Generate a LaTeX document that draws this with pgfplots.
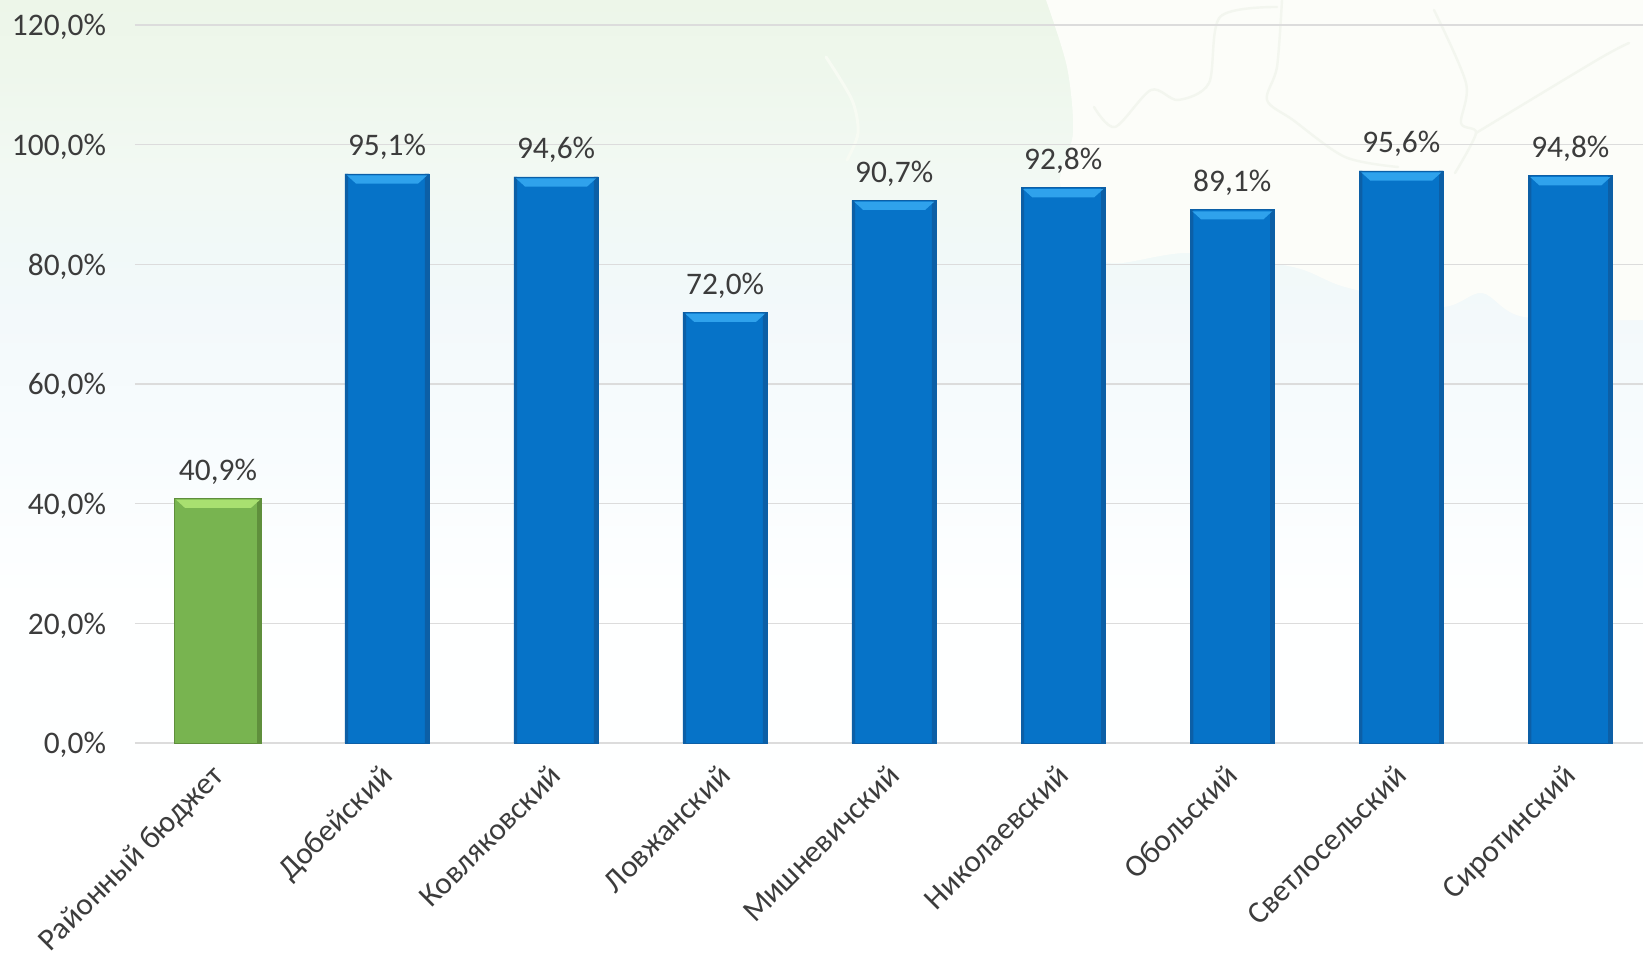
\documentclass[border=0pt]{standalone}
\usepackage{pgfplots}
\usepackage{pgfplotstable}
\pgfplotsset{compat=1.18}
\usepackage{fontspec}
\setmainfont{Carlito}
\definecolor{txt}{HTML}{3C3C3C}
\definecolor{gridc}{HTML}{DCDCDC}
\definecolor{blueb}{HTML}{0673C8}
\definecolor{bluee}{HTML}{0C5FA6}
\definecolor{bluet}{HTML}{2FA2EC}
\definecolor{greenb}{HTML}{78B450}
\definecolor{greene}{HTML}{5F8F3C}
\definecolor{greent}{HTML}{A8E070}
\definecolor{landc}{HTML}{FCFDF9}
\definecolor{borderc}{HTML}{F3F6EF}
\definecolor{borderw}{HTML}{F7FBF3}
\definecolor{bga}{HTML}{FEFFFF}
\definecolor{bgb}{HTML}{F8FCFE}
\definecolor{bgc}{HTML}{F3F9FB}
\definecolor{bgd}{HTML}{F1F9F8}
\definecolor{bge}{HTML}{F2F9F3}
\definecolor{bgf}{HTML}{EEF7EC}
\definecolor{bgg}{HTML}{EDF6E9}
\pgfdeclareverticalshading{backdrop}{100bp}{
 color(0bp)=(white);
 color(25bp)=(white);
 color(43.6bp)=(bga);
 color(51.4bp)=(bgb);
 color(58.2bp)=(bgc);
 color(61.9bp)=(bgd);
 color(66.1bp)=(bge);
 color(71.3bp)=(bgf);
 color(75bp)=(bgg);
 color(100bp)=(bgg)}
\pgfdeclareplotmark{bevelblue}{\pgfsetfillcolor{bluet}\pgfsetstrokeopacity{0}%
 \pgfpathmoveto{\pgfqpoint{-20pt}{-0.7pt}}\pgfpathlineto{\pgfqpoint{20pt}{-0.7pt}}\pgfpathlineto{\pgfqpoint{15.5pt}{-4.8pt}}\pgfpathlineto{\pgfqpoint{-15.5pt}{-4.8pt}}\pgfpathclose\pgfusepathqfill}
\pgfdeclareplotmark{bevelgreen}{\pgfsetfillcolor{greent}\pgfsetstrokeopacity{0}%
 \pgfpathmoveto{\pgfqpoint{-21pt}{-0.7pt}}\pgfpathlineto{\pgfqpoint{21pt}{-0.7pt}}\pgfpathlineto{\pgfqpoint{16.5pt}{-4.8pt}}\pgfpathlineto{\pgfqpoint{-16.5pt}{-4.8pt}}\pgfpathclose\pgfusepathqfill}
\pgfplotstableread{
x y
1 95.1
2 94.6
3 72.0
4 90.7
5 92.8
6 89.1
7 95.6
8 94.8
}\bluedata
\pgfplotstableread{
x y
0 40.9
}\greendata
\begin{document}
\begin{tikzpicture}[x=1pt,y=1pt]
\useasboundingbox (0,0) rectangle (821.5,477.5);
\clip (0,0) rectangle (821.5,477.5);
\shade[shading=backdrop] (0,0) rectangle (821.5,477.5);
\begin{scope}[x=0.5pt,y=-0.5pt,yshift=477.5pt,line cap=round,line join=round]
\fill[landc] plot[smooth,tension=0.5] coordinates {(1046,0) (1067,67) (1073,133) (1060,180) (1075,230) (1109,263) (1188,253) (1293,267) (1345,287) (1440,307) (1482,293) (1524,317) (1643,320)} -- (1643,0) -- cycle;
\draw[borderc,line width=1.2pt] plot[smooth,tension=0.5] coordinates {(1282,0) (1277,67) (1267,100) (1293,120) (1345,157) (1398,167)};
\draw[borderc,line width=1.2pt] plot[smooth,tension=0.5] coordinates {(1434,10) (1466,83) (1461,123) (1476,133) (1455,173)};
\draw[borderc,line width=1.2pt] plot[smooth,tension=0.5] coordinates {(1629,43) (1597,60) (1476,133)};
\draw[borderc,line width=1.2pt] plot[smooth,tension=0.5] coordinates {(1094,107) (1115,127) (1151,90) (1178,100) (1209,83) (1220,17) (1277,7)};
\draw[borderw,line width=1.5pt] plot[smooth,tension=0.5] coordinates {(826,57) (852,100) (858,133) (847,160)};
\end{scope}
\begin{axis}[
  at={(67.5pt,106pt)},anchor=south west,
  scale only axis,width=754pt,height=359pt,
  xmin=-0.491,xmax=8.43,ymin=0,ymax=120,
  axis line style={draw=none},
  ytick={0,20,...,120},
  yticklabel={\pgfmathprintnumber[fixed,fixed zerofill,precision=1,use comma]{\tick}\%},
  yticklabel style={/pgf/number format/assume math mode=true,text=txt,font=\fontsize{15.7}{18}\selectfont,anchor=east,xshift=-11pt,yshift=-1pt},
  ymajorgrids,grid style={gridc,line width=0.8pt},
  major tick length=0pt,
  xtick={0,...,8},
  xticklabels={Районный бюджет,Добейский,Ковляковский,Ловжанский,Мишневичский,Николаевский,Обольский,Светлосельский,Сиротинский},
  xticklabel style={rotate=45,anchor=north east,text=txt,font=\fontsize{15.6}{18}\selectfont,xshift=-6.4pt,yshift=-0.7pt},
  clip=false,
  nodes near coords={\pgfmathprintnumber[fixed,fixed zerofill,precision=1,use comma,assume math mode=true]{\pgfplotspointmeta}\%},
  point meta=y,
  every node near coord/.style={text=txt,font=\fontsize{15.7}{18}\selectfont,anchor=south,yshift=3.5pt},
]
\addplot[ybar,bar width=42pt,bar shift=0pt,fill=blueb,draw=bluee,line width=0.4pt] table[x=x,y=y]{\bluedata};
\addplot[ybar,bar width=1.6pt,bar shift=-20.3pt,fill=bluee,draw=none,nodes near coords={},forget plot] table[x=x,y=y]{\bluedata};
\addplot[ybar,bar width=2.2pt,bar shift=20pt,fill=bluee,draw=none,nodes near coords={},forget plot] table[x=x,y=y]{\bluedata};
\addplot[only marks,mark=bevelblue,nodes near coords={},forget plot] table[x=x,y=y]{\bluedata};
\addplot[ybar,bar width=43.5pt,bar shift=0pt,fill=greenb,draw=greene,line width=0.4pt] table[x=x,y=y]{\greendata};
\addplot[ybar,bar width=2pt,bar shift=20.7pt,fill=greene,draw=none,nodes near coords={},forget plot] table[x=x,y=y]{\greendata};
\addplot[only marks,mark=bevelgreen,nodes near coords={},forget plot] table[x=x,y=y]{\greendata};
\end{axis}
\end{tikzpicture}
\end{document}
